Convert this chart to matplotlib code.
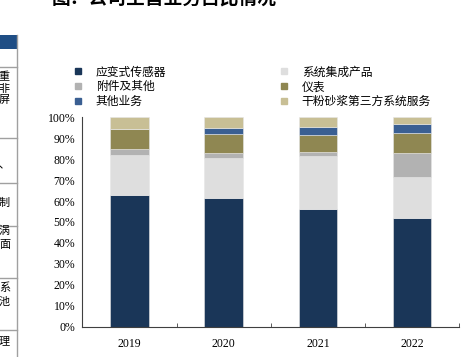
import numpy as np
import matplotlib
matplotlib.use("Agg")
import matplotlib.pyplot as plt
from matplotlib.lines import Line2D
from matplotlib.patches import Rectangle

plt.rcParams['font.family'] = ['Liberation Serif', 'Noto Sans CJK SC']

years = ['2019', '2020', '2021', '2022']
labels = ['应变式传感器', '系统集成产品', '附件及其他', '仪表', '其他业务', '干粉砂浆第三方系统服务']
sensor = [63.0, 61.6, 56.2, 52.1]
system = [19.0, 18.8, 25.5, 19.5]
accessory = [3.0, 2.4, 1.9, 11.4]
meter = [9.5, 9.1, 7.9, 9.6]
other = [0.0, 3.1, 4.0, 4.2]
mortar = [5.5, 5.0, 4.5, 3.2]
colors = ['#1a3658', '#dedede', '#b2b2b2', '#8f8752', '#3a5f92', '#c8bf95']

fig = plt.figure(figsize=(4.72, 3.57), dpi=100)
ax = fig.add_axes([82.3/472, 1-326.7/357, 377/472, 209.4/357])

x = np.arange(len(years))
bottom = np.zeros(len(years))
series = [sensor, system, accessory, meter, other, mortar]
for vals, c in zip(series, colors):
    v = np.array(vals) / 100
    ax.bar(x, v, 0.41, bottom=bottom, color=c, edgecolor='#e6e6e6', linewidth=0.4)
    bottom += v

ax.set_xlim(-0.5, 3.5)
ax.set_ylim(0, 1)
ax.set_yticks(np.arange(0, 1.01, 0.1))
ax.set_yticklabels([f'{int(round(t*100))}%' for t in np.arange(0, 1.01, 0.1)])
ax.set_xticks(x)
ax.set_xticklabels(years)
ax.set_xticks(np.arange(-0.5, 3.6, 1), minor=True)
ax.tick_params(axis='x', which='major', length=0, pad=8, labelsize=8.5)
ax.tick_params(axis='x', which='minor', direction='in', length=3, color='#404040')
ax.tick_params(axis='y', length=0, pad=5, labelsize=8.5)
for s in ['top', 'right']:
    ax.spines[s].set_visible(False)
for s in ['left', 'bottom']:
    ax.spines[s].set_color('#404040')
    ax.spines[s].set_linewidth(0.8)

# legend reads row by row in the reference, matplotlib fills columns first
handles = [Line2D([], [], marker='s', linestyle='none', markersize=4.5,
                  markerfacecolor=c, markeredgecolor=c) for c in colors]
order = [0, 2, 4, 1, 3, 5]
fig.legend([handles[i] for i in order], [labels[i] for i in order], ncol=2,
           loc='upper left', bbox_to_anchor=(72/472, 1-65.5/357),
           frameon=False, borderpad=0, borderaxespad=0, handlelength=1.0,
           handletextpad=1.0, columnspacing=9.5, labelspacing=0.15,
           prop={'family': 'Noto Sans CJK SC', 'size': 8.5})

# partially visible title and table fragment from the page
fig.text(52/472, 1 + 2/357, '图：公司主营业务占比情况', fontsize=13.5, fontweight='bold',
         family='Noto Sans CJK SC', va='center', ha='left')
fig.patches.append(Rectangle((0, 1-49/357), 16.5/472, 14/357, transform=fig.transFigure,
                             facecolor='#1f4e85', edgecolor='none'))
fig.lines.append(Line2D([16.5/472, 16.5/472], [1-35/357, 0], transform=fig.transFigure,
                        color='#a0a0a0', linewidth=1.0))
for yy in [67.3, 138.3, 183.3, 226, 277.7, 330]:
    fig.lines.append(Line2D([0, 16.5/472], [1-yy/357]*2, transform=fig.transFigure,
                            color='#a0a0a0', linewidth=1.0))
frag = [('重', 77), ('非', 89), ('屏', 100.5), ('、', 165), ('制', 203),
        ('涡', 231), ('面', 245), ('系', 288), ('池', 302), ('理', 341)]
for ch, yy in frag:
    fig.text(10/472, 1-yy/357, ch, fontsize=8, family='Noto Sans CJK SC',
             ha='right', va='center')

fig.savefig('out.png', dpi=100)
